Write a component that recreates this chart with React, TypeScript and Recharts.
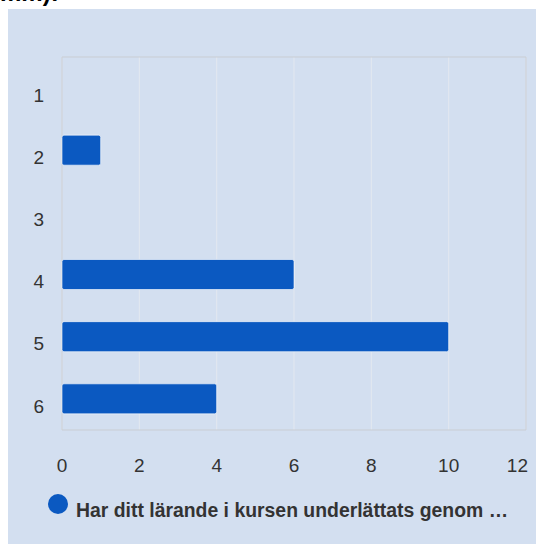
import React from 'react';
import { BarChart, Bar, XAxis, YAxis, CartesianGrid, Legend, ReferenceArea } from 'recharts';

const categories = ['1', '2', '3', '4', '5', '6'];
const values = [0, 1, 0, 6, 10, 4];
const xTicks = [0, 2, 4, 6, 8, 10, 12];
const seriesName = 'Har ditt lärande i kursen underlättats genom …';
const titleTail = 'mm):';

const data = categories.map((c, i) => ({ name: c, value: values[i] }));

const FONT = "Arial, 'Liberation Sans', sans-serif";
const BAR_COLOR = '#0b59c1';

const YTick = (props: any) => {
  const { x, y, payload } = props;
  return (
    <text x={x} y={y + 7} dy="0.355em" textAnchor="end" fontSize={19} fontFamily={FONT} fill="#333">
      {payload.value}
    </text>
  );
};

const XTick = (props: any) => {
  const { x, y, payload, index } = props;
  const last = index === xTicks.length - 1;
  return (
    <text
      x={last ? x + 2 : x}
      y={y}
      dy="0.71em"
      textAnchor={last ? 'end' : 'middle'}
      fontSize={19}
      fontFamily={FONT}
      fill="#333"
    >
      {payload.value}
    </text>
  );
};

const LegendContent = () => (
  <svg width={528} height={40} style={{ overflow: 'visible', display: 'block' }}>
    <circle cx={50} cy={15} r={10} fill={BAR_COLOR} />
    <text x={68} y={28} fontSize={19.4} fontWeight="bold" fontFamily={FONT} fill="#333">
      {seriesName}
    </text>
  </svg>
);

export default function App() {
  return (
    <div>
      <div
        style={{
          position: 'absolute',
          left: 0,
          top: -19,
          fontFamily: FONT,
          fontWeight: 'bold',
          fontSize: 24,
          lineHeight: '24px',
          color: '#000',
          whiteSpace: 'nowrap',
        }}
      >
        {titleTail}
      </div>
      <div
        style={{
          position: 'absolute',
          left: 8,
          top: 9,
          width: 528,
          height: 535,
          background: '#d3dff0',
          overflow: 'hidden',
        }}
      >
        <BarChart
          width={528}
          height={535}
          data={data}
          layout="vertical"
          margin={{ top: 48, right: 10, bottom: 24, left: 0 }}
          barCategoryGap={0}
        >
          <CartesianGrid horizontal={false} stroke="#e3e8f0" strokeWidth={1} />
          <ReferenceArea x1={0} x2={12} fill="none" stroke="#c9cdd3" strokeWidth={1} ifOverflow="visible" />
          <XAxis
            type="number"
            domain={[0, 12]}
            ticks={xTicks}
            axisLine={false}
            tickLine={false}
            height={50}
            tickMargin={23}
            interval={0}
            tick={<XTick />}
          />
          <YAxis
            type="category"
            dataKey="name"
            width={54}
            axisLine={false}
            tickLine={false}
            tickMargin={12}
            interval={0}
            tick={<YTick />}
          />
          <Legend
            verticalAlign="bottom"
            height={40}
            content={<LegendContent />}
            wrapperStyle={{ top: 480, left: 0, bottom: 'auto', width: 528 }}
          />
          <Bar
            dataKey="value"
            name={seriesName}
            fill={BAR_COLOR}
            stroke="#ffffff"
            strokeOpacity={0.6}
            strokeWidth={1}
            barSize={30}
            radius={2}
            isAnimationActive={false}
          />
        </BarChart>
      </div>
    </div>
  );
}
